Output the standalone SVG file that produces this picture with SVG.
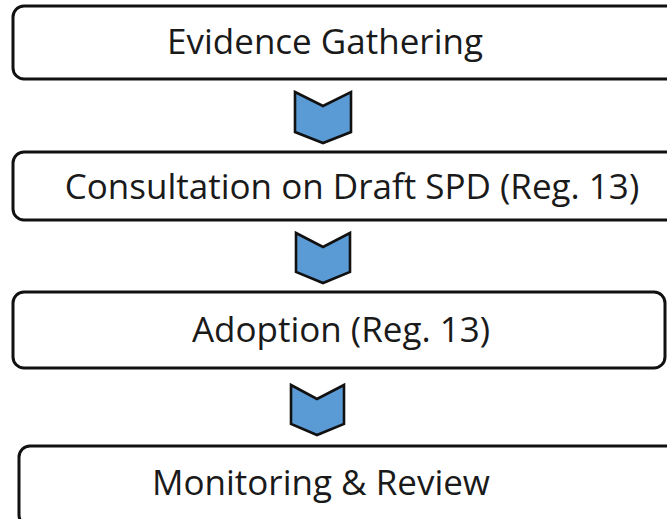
<svg xmlns="http://www.w3.org/2000/svg" width="667" height="519" viewBox="0 0 667 519">
  <style>
    .box { fill: #ffffff; stroke: #111111; stroke-width: 3; }
    .chev { fill: #5b9bd5; stroke: #111111; stroke-width: 2.6; stroke-linejoin: miter; }
    .label { font-family: "Open Sans", "Noto Sans", "Liberation Sans", sans-serif; font-size: 35px; fill: #1a1a1a; text-anchor: middle; dominant-baseline: central; }
  </style>
  <rect width="667" height="519" fill="#ffffff"/>

  <g id="node-evidence">
    <rect class="box" x="13" y="6" width="664" height="73" rx="11"/>
    <text class="label" x="325" y="40">Evidence Gathering</text>
  </g>

  <g id="node-consultation">
    <rect class="box" x="13" y="152" width="664" height="68" rx="11"/>
    <text class="label" x="352" y="185">Consultation on Draft SPD (Reg. 13)</text>
  </g>

  <g id="node-adoption">
    <rect class="box" x="13" y="292" width="652" height="76" rx="11"/>
    <text class="label" x="341" y="328">Adoption (Reg. 13)</text>
  </g>

  <g id="node-monitoring">
    <rect class="box" x="19" y="446" width="660" height="80" rx="11"/>
    <text class="label" x="321" y="481">Monitoring &amp; Review</text>
  </g>

  <g id="connectors">
    <polygon class="chev" points="295,92 323,106 351,92 351,132 323,143 295,132"/>
    <polygon class="chev" points="296,233 323,247 350,233 350,272 323,283 296,272"/>
    <polygon class="chev" points="291,385 317,399 344,385 344,424 317,435 291,424"/>
  </g>
</svg>
